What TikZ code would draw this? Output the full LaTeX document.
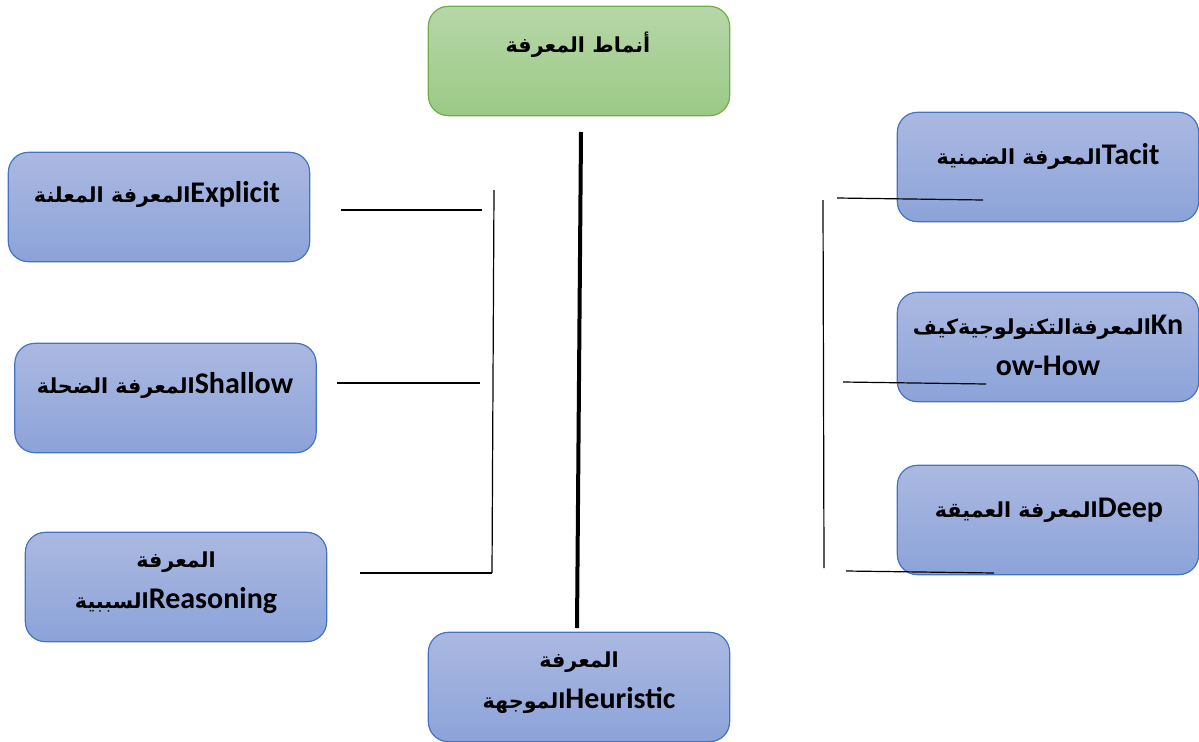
\documentclass[tikz,border=0pt]{standalone}
\usepackage{fontspec}
\setmainfont{Carlito}
\newfontfamily\ar[Script=Arabic,Scale=0.69]{DejaVu Sans}
\TeXXeTstate=1
\newcommand\AR[1]{{\ar\beginR #1\endR}}
\begin{document}
\begin{tikzpicture}[x=0.75pt,y=-0.75pt,
  bluebox/.style={draw=blueBorder, line width=0.9pt, rounded corners=15pt,
    top color=blueTop, bottom color=blueBot, minimum width=226pt, minimum height=82pt, inner sep=0pt},
  greenbox/.style={draw=greenBorder, line width=0.9pt, rounded corners=15pt,
    top color=greenTop, bottom color=greenBot, minimum width=226pt, minimum height=82pt, inner sep=0pt},
  txt/.style={font=\bfseries\fontsize{22.5}{30.75}\selectfont, align=center, inner sep=0pt},
  thin/.style={line width=0.9pt, black},
  thick/.style={line width=3pt, black}]
\definecolor{blueTop}{HTML}{ABB9E1}
\definecolor{blueBot}{HTML}{8CA3D9}
\definecolor{blueBorder}{HTML}{4472C4}
\definecolor{greenTop}{HTML}{B6D7A8}
\definecolor{greenBot}{HTML}{9CC986}
\definecolor{greenBorder}{HTML}{70AD47}
\useasboundingbox (0,0) rectangle (1199,742);
% boxes
\node[greenbox] (top) at (579,61) {};
\node[bluebox] (exp) at (159,207) {};
\node[bluebox] (sha) at (165.5,398) {};
\node[bluebox] (rea) at (176,587) {};
\node[bluebox] (heu) at (579,687) {};
\node[bluebox] (tac) at (1048,167) {};
\node[bluebox] (kno) at (1048,347) {};
\node[bluebox] (dee) at (1048,520) {};
% texts
\node[txt] (ttop) at (578,45) {\AR{أنماط المعرفة}};
\node[txt] (texp) at (157,195) {\AR{المعرفة المعلنة}Explicit};
\node[txt] (tsha) at (165,385) {\AR{المعرفة الضحلة}Shallow};
\node[txt] (trea) at (176,583) {\AR{المعرفة}\\\AR{السببية}Reasoning};
\node[txt] (theu) at (579,683) {\AR{المعرفة}\\\AR{الموجهة}Heuristic};
\node[txt] (ttac) at (1048,157) {\AR{المعرفة الضمنية}Tacit};
\node[txt] (tkno) at (1048,345) {\AR{المعرفةالتكنولوجيةكيف}Kn\\ow-How};
\node[txt] (tdee) at (1049,510) {\AR{المعرفة العميقة}Deep};
% central line
\coordinate (c1) at (581,132);
\coordinate (c2) at (577,628);
\draw[thick] (c1) -- (c2);
% left bracket
\coordinate (lv1) at (494,190);
\coordinate (lv2) at (492,573);
\draw[thin] (lv1) -- (lv2);
\coordinate (la1) at (341,210); \coordinate (la2) at (482,210);
\coordinate (lb1) at (337,383); \coordinate (lb2) at (480,383);
\coordinate (lc1) at (360,573); \coordinate (lc2) at (492,573);
\draw[thin] (la1) -- (la2);
\draw[thin] (lb1) -- (lb2);
\draw[thin] (lc1) -- (lc2);
% right bracket
\coordinate (rv1) at (823,200);
\coordinate (rv2) at (824,568);
\draw[thin] (rv1) -- (rv2);
\coordinate (ra1) at (837,198); \coordinate (ra2) at (983,200);
\coordinate (rb1) at (843,382); \coordinate (rb2) at (986,384);
\coordinate (rc1) at (846,571); \coordinate (rc2) at (994,573);
\draw[thin] (ra1) -- (ra2);
\draw[thin] (rb1) -- (rb2);
\draw[thin] (rc1) -- (rc2);
\end{tikzpicture}
\end{document}
